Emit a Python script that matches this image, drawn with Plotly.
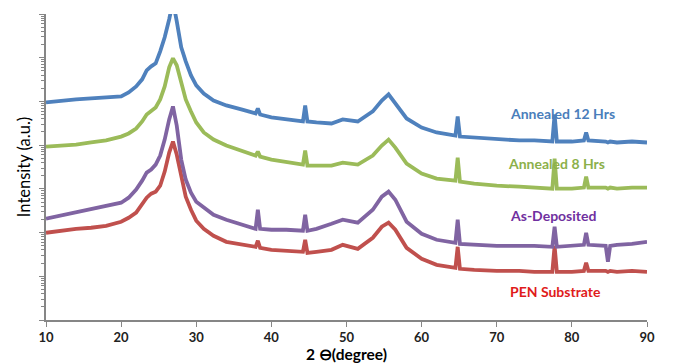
import plotly.graph_objects as go

# 2-theta positions (degrees)
two_theta = [10, 12, 14, 16, 18, 20, 21, 22, 22.8, 23.4, 24.0, 24.6,
             25.2, 25.8, 26.4, 26.9, 27.4, 28.0, 28.6, 29.3, 30.0, 31, 32.3, 34,
             36, 37.9, 38.2, 38.5, 40, 42, 44.2, 44.5, 44.8, 46, 48, 49.5,
             51.5, 53.5, 54.7, 55.6, 56.5, 58, 60, 62, 64.5, 64.8, 65.1, 67,
             70, 73, 75, 77.4, 77.7, 78.0, 80, 81.6, 81.9, 82.2, 84.5, 84.8,
             85.1, 86, 88, 90]

# Intensities (a.u.)
annealed_12 = [9.5e4, 1.05e5, 1.11e5, 1.17e5, 1.24e5, 1.30e5, 1.61e5, 2.21e5, 3.20e5, 5.14e5, 6.35e5, 7.45e5,
               1.40e6, 2.94e6, 7.60e6, 1.97e7, 6.84e6, 1.73e6, 8.26e5, 3.95e5, 2.33e5, 1.52e5, 1.05e5, 8.09e4,
               6.56e4, 5.31e4, 6.91e4, 5.03e4, 4.30e4, 3.87e4, 3.48e4, 8.09e4, 3.48e4, 3.30e4, 3.13e4, 3.87e4,
               3.48e4, 5.90e4, 1.05e5, 1.45e5, 9.0e4, 4.07e4, 2.53e4, 1.95e4, 1.66e4, 4.53e4, 1.57e4, 1.49e4,
               1.34e4, 1.28e4, 1.28e4, 1.21e4, 5.03e4, 1.21e4, 1.21e4, 1.28e4, 1.95e4, 1.28e4, 1.21e4, 1.15e4,
               1.21e4, 1.15e4, 1.21e4, 1.15e4]

annealed_8 = [9.29e3, 9.79e3, 1.03e4, 1.15e4, 1.28e4, 1.57e4, 1.85e4, 2.40e4, 3.48e4, 5.03e4, 5.90e4, 7.28e4,
              1.11e5, 2.21e5, 6.03e5, 9.69e5, 6.70e5, 2.88e5, 1.11e5, 5.90e4, 3.30e4, 1.95e4, 1.34e4, 9.79e3,
              7.52e3, 5.77e3, 7.13e3, 5.48e3, 4.68e3, 4.21e3, 3.59e3, 7.52e3, 3.40e3, 3.40e3, 3.40e3, 3.99e3,
              3.59e3, 5.77e3, 9.79e3, 1.34e4, 8.81e3, 3.78e3, 2.23e3, 1.71e3, 1.54e3, 5.20e3, 1.46e3, 1.32e3,
              1.18e3, 1.12e3, 1.07e3, 1.01e3, 4.93e3, 1.01e3, 1.01e3, 1.07e3, 1.91e3, 1.07e3, 1.07e3, 1.01e3,
              1.07e3, 1.01e3, 1.07e3, 1.07e3]

as_deposited = [207, 243, 285, 333, 391, 482, 628, 959, 1540, 2350, 2760, 3590,
                5770, 13400, 38700, 76800, 28200, 4680, 1630, 818, 508, 371, 256, 197,
                151, 122, 333, 122, 116, 116, 110, 256, 110, 122, 159, 197,
                168, 333, 662, 863, 565, 177, 93.8, 68.4, 58.4, 197, 55.3, 52.5,
                49.8, 49.8, 49.8, 47.2, 136, 47.2, 49.8, 52.5, 98.9, 52.5, 49.8, 21.4,
                49.8, 52.5, 55.3, 61.5]

pen_substrate = [98.9, 110, 122, 129, 143, 177, 218, 285, 434, 628, 776, 863,
                 1180, 2480, 6760, 12100, 6090, 2010, 662, 333, 187, 122, 84.5, 61.5,
                 52.5, 47.2, 64.9, 44.8, 40.3, 38.3, 36.3, 68.4, 34.4, 36.3, 40.3, 52.5,
                 42.5, 76.0, 136, 168, 116, 44.8, 25.1, 18.3, 15.6, 47.2, 14.8, 14.0,
                 13.3, 13.3, 12.6, 12.6, 49.8, 12.6, 12.6, 13.3, 20.3, 13.3, 13.3, 12.6,
                 13.3, 12.6, 13.3, 12.6]

series_names = ["PEN Substrate", "As-Deposited", "Annealed 8 Hrs", "Annealed 12 Hrs"]
series_data = [pen_substrate, as_deposited, annealed_8, annealed_12]
line_colors = ["#C0504D", "#8064A2", "#9BBB59", "#4F81BD"]
label_colors = ["#E01B1B", "#7030A0", "#8CB04A", "#4A7EBB"]
label_x = [0.847, 0.844, 0.850, 0.859]
label_y = [0.092, 0.340, 0.513, 0.676]

fig = go.Figure()
for name, ys, col in zip(series_names, series_data, line_colors):
    fig.add_trace(go.Scatter(x=two_theta, y=ys, mode="lines", name=name,
                             line=dict(color=col, width=3.8), showlegend=False))

for name, col, lx, ly in zip(series_names, label_colors, label_x, label_y):
    fig.add_annotation(text=name, xref="paper", yref="paper", x=lx, y=ly,
                       showarrow=False, xanchor="center", yanchor="middle",
                       font=dict(family="Lato", size=14, color=col, weight="bold"))

fig.update_layout(
    width=692, height=355,
    margin=dict(l=38, r=53, t=6, b=43),
    paper_bgcolor="white", plot_bgcolor="white",
    font=dict(family="Lato", color="#000000"),
    xaxis=dict(range=[10, 90], dtick=10, tick0=10, showgrid=False, zeroline=False,
               automargin=False,
               showline=True, linecolor="#868686", linewidth=1.5,
               ticks="outside", ticklen=5, tickcolor="#868686",
               tickfont=dict(family="Lato", size=13, weight="bold", color="#222222"),
               title=dict(text="2 ⊖(degree)", standoff=3,
                          font=dict(family="Lato", size=15.5, weight="bold", color="#000000"))),
    yaxis=dict(type="log", range=[0, 7], dtick=1, showgrid=False, zeroline=False,
               automargin=False,
               showline=True, linecolor="#868686", linewidth=1.5,
               ticks="outside", ticklen=5, tickcolor="#868686", showticklabels=False,
               minor=dict(ticks="outside", ticklen=3, tickcolor="#868686", showgrid=False),
               title=dict(text="Intensity (a.u.)", standoff=4,
                          font=dict(family="Lato", size=16.5, color="#000000"))),
)

fig.write_html("out.html")
